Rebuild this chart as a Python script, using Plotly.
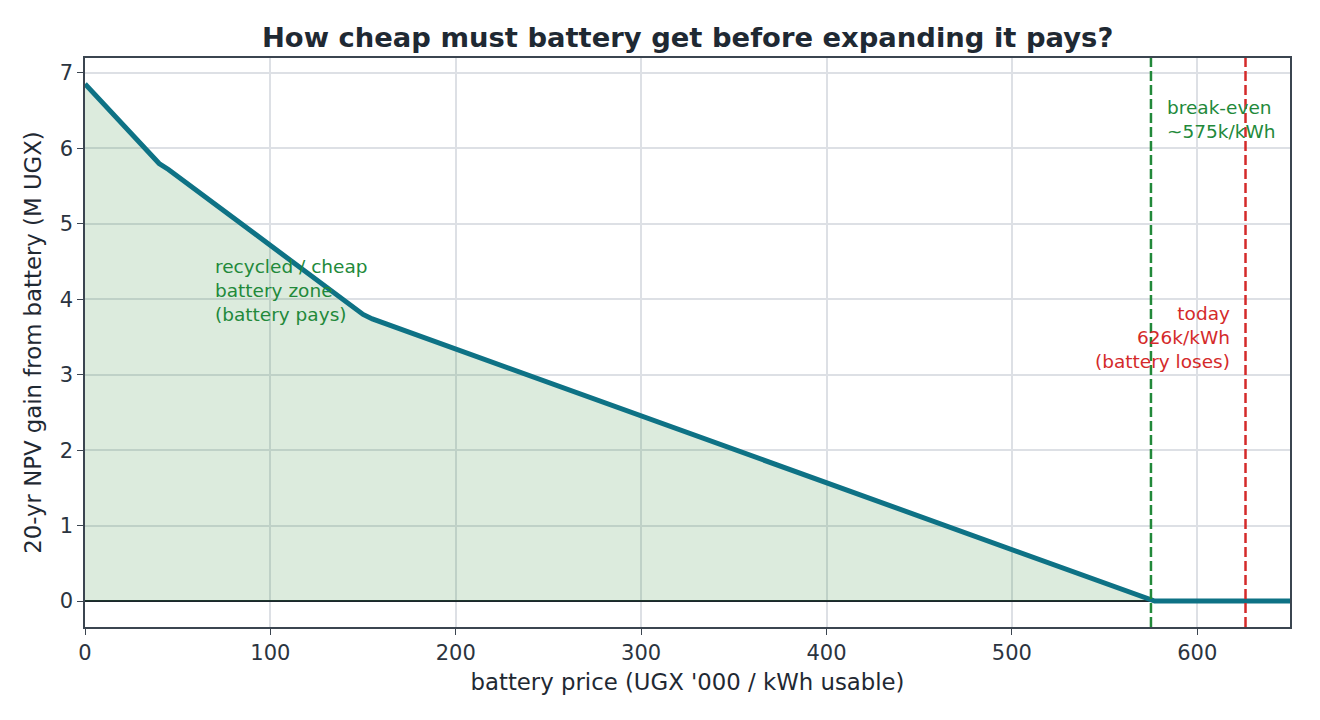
import plotly.graph_objects as go

# battery price (UGX '000 / kWh usable) vs 20-yr NPV gain (M UGX)
price = [0, 40, 45, 150, 155, 577, 650]
npv_gain = [6.855, 5.80, 5.72, 3.80, 3.74, 0.0, 0.0]

break_even = 575
today_price = 626

TEAL = "#0e7285"
GREEN = "#22893a"
RED = "#d42a2a"
INK = "#1f2933"
FONT = "DejaVu Sans"

fig = go.Figure()
fig.add_trace(
    go.Scatter(
        x=price,
        y=npv_gain,
        mode="lines",
        line={"color": TEAL, "width": 5},
        fill="tozeroy",
        fillcolor="rgba(49,137,55,0.17)",
        hoverinfo="x+y",
        showlegend=False,
    )
)

fig.add_vline(x=break_even, line={"color": GREEN, "width": 2.5, "dash": "10px,4px"})
fig.add_vline(x=today_price, line={"color": RED, "width": 2.5, "dash": "10px,4px"})

fig.add_annotation(
    x=69, y=4.6, xref="x", yref="y",
    text="recycled / cheap<br>battery zone<br>(battery pays)",
    showarrow=False, xanchor="left", yanchor="top", align="left",
    font={"color": GREEN, "size": 18.5, "family": FONT},
)
fig.add_annotation(
    x=582.5, y=6.71, xref="x", yref="y",
    text="break-even<br>~575k/kWh",
    showarrow=False, xanchor="left", yanchor="top", align="left",
    font={"color": GREEN, "size": 18.5, "family": FONT},
)
fig.add_annotation(
    x=618.5, y=3.01, xref="x", yref="y",
    text="today<br>626k/kWh<br>(battery loses)",
    showarrow=False, xanchor="right", yanchor="bottom", align="right",
    font={"color": RED, "size": 18.5, "family": FONT},
)

axis_common = {
    "showline": True,
    "mirror": True,
    "linecolor": "#3b4550",
    "linewidth": 1.6,
    "ticks": "outside",
    "ticklen": 6,
    "tickwidth": 1.4,
    "tickcolor": "#3b4550",
    "showgrid": True,
    "gridcolor": "#dde0e5",
    "gridwidth": 1.5,
    "zeroline": False,
    "tickfont": {"size": 21, "color": "#2b3440", "family": FONT},
}

fig.update_layout(
    width=1312,
    height=712,
    paper_bgcolor="white",
    plot_bgcolor="white",
    margin={"l": 77, "r": 30, "t": 50, "b": 93},
    font={"family": FONT, "color": INK},
    title={
        "text": "<b>How cheap must battery get before expanding it pays?</b>",
        "x": 0.518, "xanchor": "center", "y": 0.958, "yanchor": "middle",
        "font": {"size": 27.4, "color": INK, "family": FONT},
    },
    xaxis={
        **axis_common,
        "range": [0, 650],
        "dtick": 100,
        "title": {"text": "battery price (UGX '000 / kWh usable)",
                  "font": {"size": 22.8, "color": INK}, "standoff": 10},
    },
    yaxis={
        **axis_common,
        "range": [-0.343, 7.198],
        "dtick": 1,
        # zero line sits above the grid but under the curve; fill is see-through
        "zeroline": True,
        "zerolinecolor": "#1b262c",
        "zerolinewidth": 1.8,
        "title": {"text": "20-yr NPV gain from battery (M UGX)",
                  "font": {"size": 22.8, "color": INK}, "standoff": 12},
    },
)

fig.write_html("out.html")
